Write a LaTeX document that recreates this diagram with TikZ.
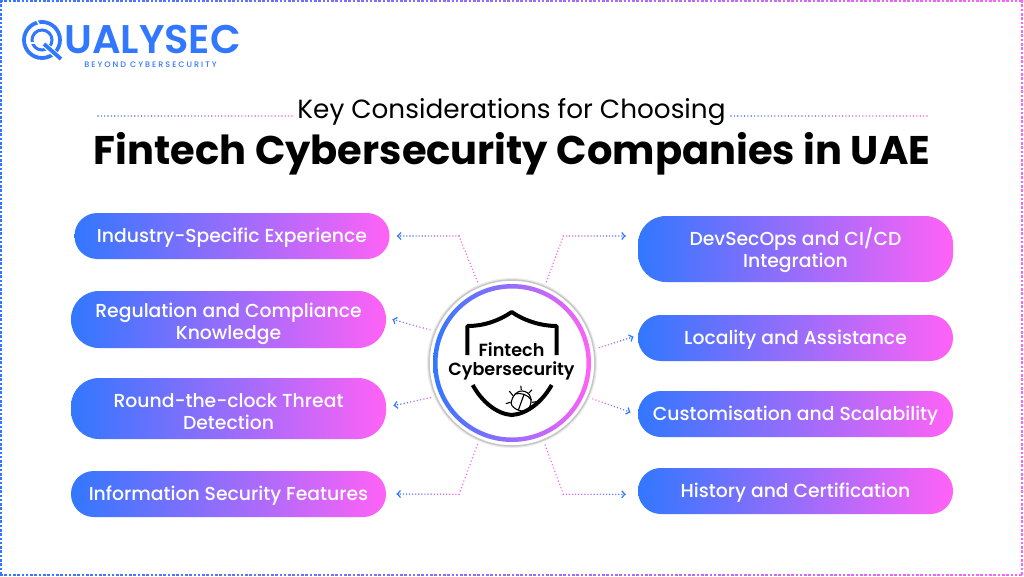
\documentclass[tikz,border=0pt]{standalone}
\usepackage{fontspec}
\setmainfont{Poppins}
\newfontfamily\medfont{Poppins Medium}
\newfontfamily\logofont{Poppins SemiBold}
\newfontfamily\tagfont[LetterSpace=25]{Poppins Medium}
\usetikzlibrary{calc,arrows.meta}
\definecolor{qblue}{HTML}{3277FF}
\definecolor{qpink}{HTML}{FF62F6}
\tikzset{
  pill/.style={left color=qblue,right color=qpink,minimum width=315,minimum height=46,
    rounded corners=22.8,inner sep=0pt,align=center,text=white,text height=13pt,text depth=0pt,
    font=\medfont\fontsize{18.8}{22}\selectfont},
  tall/.style={rounded corners=28,text height=#1,text depth=0pt},
  tip/.style={-{Straight Barb[length=3pt,width=7pt,line width=1.2pt]},qblue,line width=1.2pt}
}
\newcommand{\dotrun}[5]{%
  \foreach \k in {0,...,#5} {
    \pgfmathtruncatemacro{\mixval}{#3+(#4-#3)*\k/#5}
    \fill[qblue!\mixval!qpink] ($(#1)!\k/#5!(#2)$) circle (0.8);
  }}
\begin{document}
\begin{tikzpicture}[x=1pt,y=-1pt]
\useasboundingbox (0,0) rectangle (1024,576);
\fill[white] (0,0) rectangle (1024,576);
% frame
\foreach \x in {0,4.3,...,1020} {
  \pgfmathtruncatemacro{\mixval}{100-\x/10.24}
  \draw[qblue!\mixval!qpink,line width=1.5] (\x,1) -- ++(2.6,0);
  \draw[qblue!\mixval!qpink,line width=1.5] (\x,575) -- ++(2.6,0);
}
\draw[qblue,line width=1.5,dash pattern=on 2.6pt off 1.7pt] (1,0) -- (1,576);
\draw[qpink,line width=1.5,dash pattern=on 2.6pt off 1.7pt] (1022,0) -- (1022,576);
% logo
\draw[qblue,line width=3.8] (42,40) circle (18);
\draw[qblue,line width=3] (42,40) circle (10);
\draw[white,line width=1.5] (36,19) -- (40,26);
\draw[white,line width=1.5] (29,43) -- (36,43);
\draw[white,line width=6] (46,46) -- (56,55);
\draw[qblue,line width=3.8] (44,44) -- (61,59);
\node[text=qblue,font=\logofont\fontsize{40}{40}\selectfont,inner sep=0pt,anchor=west,text height=14pt,text depth=0pt] (logo) at (64,46) {UALYSEC};
\node[text=qblue,font=\tagfont\fontsize{8}{8}\selectfont,inner sep=0pt] (tagline) at (150.5,64.5) {BEYOND CYBERSECURITY};
% title
\node[inner sep=0pt,font=\fontsize{26.3}{30}\selectfont] (sub) at (511.5,112) {Key Considerations for Choosing};
\node[inner sep=0pt,font=\bfseries\fontsize{40}{48}\selectfont] (title) at (512,154) {Fintech Cybersecurity Companies in UAE};
\coordinate (ruleA) at (98,116);
\coordinate (ruleB) at (292,116);
\coordinate (ruleC) at (731,116);
\coordinate (ruleD) at (927,116);
\dotrun{ruleA}{ruleB}{100}{0}{58}
\dotrun{ruleC}{ruleD}{100}{0}{58}
% left pills
\node[pill] (industry) at (232,236) {Industry-Specific Experience};
\node[pill,tall=39pt,minimum height=57] (regulation) at (228.5,319.5) {Regulation and Compliance\\Knowledge};
\node[pill,tall=42pt,minimum height=61] (threat) at (228.5,408.5) {Round-the-clock Threat\\Detection};
\node[pill] (infosec) at (228.5,494) {Information Security Features};
% right pills
\node[pill,tall=37pt,minimum height=66] (devsecops) at (795.5,249) {DevSecOps and CI/CD\\Integration};
\node[pill] (locality) at (795.5,338) {Locality and Assistance};
\node[pill] (custom) at (795.5,414) {Customisation and Scalability};
\node[pill] (history) at (795.5,491) {History and Certification};
% hub
\node[circle,fill=white,draw=black!22,line width=1.5,minimum size=166,outer sep=5.5,inner sep=0pt,
  preaction={draw=black!8,line width=4}] (hub) at (512,363) {};
\shade[left color=qblue,right color=qpink,even odd rule] (hub.center) circle (79) (hub.center) circle (74.5);
\draw[black,line width=4,line join=round] (467.3,355) -- (467.3,326) .. controls (485,326) and (500,320) .. (511.7,312) .. controls (523,320) and (540,326) .. (556.7,326) -- (556.7,355);
% bug
\begin{scope}[shift={(522,400)},rotate=-20]
\draw[black,fill=white,line width=1.1] (0,-9) .. controls (8,-9) and (11,0) .. (9,7) .. controls (6,12) and (-6,12) .. (-9,7) .. controls (-11,0) and (-8,-9) .. (0,-9) -- cycle;
\draw[black,line width=1.1] (-9,-3) .. controls (-4,-7) and (4,-7) .. (9,-3) (0,-6) -- (0,11);
\draw[black,line width=1.1] (-4,-9) -- (-6,-13) (4,-9) -- (6,-13) (-10,-1) -- (-15,-4) (10,-1) -- (15,-4) (-10,6) -- (-14,9);
\end{scope}
\draw[black,line width=4] (472.7,385) .. controls (482,402) and (497,414) .. (511.7,415) .. controls (527,414) and (542,402) .. (551.7,385);
\node[inner sep=0pt,align=center,font=\logofont\fontsize{17.6}{19}\selectfont] (hubtext) at (511.5,361) {Fintech\\Cybersecurity};
% connectors
\coordinate (bendA) at (459,236);
\coordinate (bendB) at (563.3,236);
\coordinate (bendC) at (459,494.3);
\coordinate (bendD) at (563.3,494.3);
\coordinate (tipA) at ($(industry.east)+(8,0)$);
\coordinate (tipB) at (625,236);
\coordinate (tipC) at ($(regulation.east)+(7,0)$);
\coordinate (tipD) at ($(locality.west)+(-5,-1)$);
\coordinate (tipE) at ($(threat.east)+(8,-3)$);
\coordinate (tipF) at ($(custom.west)+(-8,-2)$);
\coordinate (tipG) at ($(infosec.east)+(11,0)$);
\coordinate (tipH) at (625,494.3);
\dotrun{hub.113.5}{bendA}{0}{0}{15}
\dotrun{bendA}{tipA}{0}{100}{20}
\dotrun{hub.67.3}{bendB}{0}{0}{15}
\dotrun{bendB}{tipB}{0}{100}{20}
\dotrun{hub.158.5}{tipC}{0}{100}{11}
\dotrun{hub.203.7}{tipE}{0}{100}{11}
\dotrun{hub.10.7}{tipD}{0}{100}{11}
\dotrun{hub.-24}{tipF}{0}{100}{12}
\dotrun{hub.247}{bendC}{0}{0}{15}
\dotrun{bendC}{tipG}{0}{100}{20}
\dotrun{hub.-68.5}{bendD}{0}{0}{15}
\dotrun{bendD}{tipH}{0}{100}{20}
\draw[tip] ($(tipA)+(0.5,0)$) -- ($(tipA)+(-0.5,0)$);
\draw[tip] ($(tipB)+(-0.5,0)$) -- ($(tipB)+(0.5,0)$);
\draw[tip] ($(tipC)+(0.5,0.2)$) -- ($(tipC)+(-0.5,-0.2)$);
\draw[tip] ($(tipD)+(-0.5,0.2)$) -- ($(tipD)+(0.5,-0.2)$);
\draw[tip] ($(tipE)+(0.5,-0.1)$) -- ($(tipE)+(-0.5,0.1)$);
\draw[tip] ($(tipF)+(-0.5,-0.2)$) -- ($(tipF)+(0.5,0.2)$);
\draw[tip] ($(tipG)+(0.5,0)$) -- ($(tipG)+(-0.5,0)$);
\draw[tip] ($(tipH)+(-0.5,0)$) -- ($(tipH)+(0.5,0)$);
\end{tikzpicture}
\end{document}
